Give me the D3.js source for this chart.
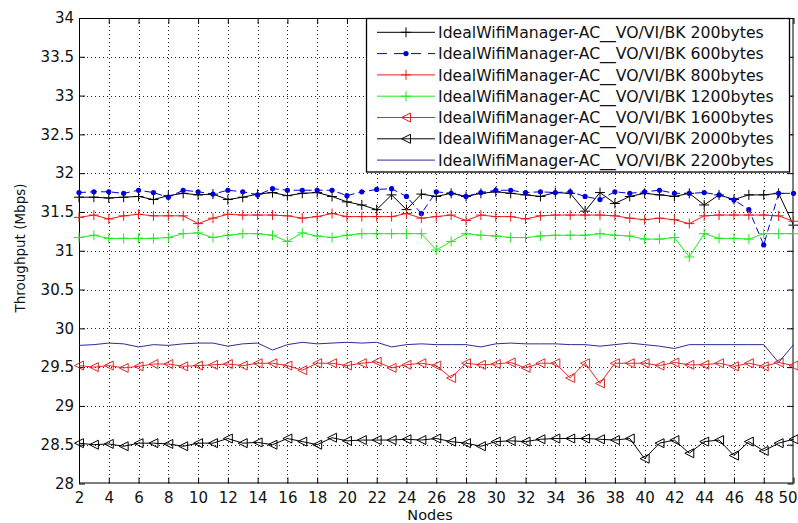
<!DOCTYPE html>
<html>
<head>
<meta charset="utf-8">
<script src="https://cdn.jsdelivr.net/npm/d3@7"></script>
<style>
  html, body { margin: 0; padding: 0; background: #fff; }
  svg { display: block; }
  text { font-family: "DejaVu Sans", sans-serif; fill: #111; }
</style>
</head>
<body>
<svg id="chart" width="798" height="523"></svg>
<script>
// ---------- DATA ----------
const nodes = [2,3,4,5,6,7,8,9,10,11,12,13,14,15,16,17,18,19,20,21,22,23,24,25,26,
               27,28,29,30,31,32,33,34,35,36,37,38,39,40,41,42,43,44,45,46,47,48,49,50];
const xTicks = [2,4,6,8,10,12,14,16,18,20,22,24,26,28,30,32,34,36,38,40,42,44,46,48,50];
const yTicks = [28,28.5,29,29.5,30,30.5,31,31.5,32,32.5,33,33.5,34];

const s200 = [31.69,31.69,31.68,31.69,31.70,31.66,31.71,31.74,31.72,31.73,31.66,31.69,31.73,31.75,31.71,31.74,31.75,
              31.70,31.63,31.59,31.53,31.72,31.53,31.73,31.70,31.74,31.70,31.74,31.76,31.74,31.72,31.70,31.75,
              31.74,31.51,31.75,31.61,31.70,31.74,31.72,31.70,31.74,31.59,31.72,31.66,31.72,31.72,31.74,31.33];
const s600 = [31.75,31.76,31.76,31.74,31.78,31.75,31.69,31.78,31.76,31.73,31.78,31.76,31.72,31.80,31.78,31.78,31.78,
              31.78,31.71,31.76,31.79,31.80,31.70,31.48,31.76,31.74,31.70,31.75,31.78,31.78,31.75,31.76,31.75,
              31.76,31.70,31.66,31.76,31.74,31.76,31.78,31.74,31.74,31.75,31.72,31.655,31.53,31.075,31.74,31.74];
const s800 = [31.43,31.46,31.41,31.45,31.47,31.45,31.45,31.45,31.35,31.42,31.47,31.46,31.46,31.46,31.45,31.42,31.44,
              31.48,31.44,31.44,31.44,31.44,31.48,31.42,31.44,31.46,31.39,31.46,31.44,31.44,31.41,31.45,31.46,
              31.46,31.46,31.46,31.45,31.42,31.40,31.42,31.40,31.35,31.45,31.46,31.46,31.46,31.46,31.45,31.38];
const s1200 = [31.17,31.20,31.16,31.16,31.16,31.16,31.17,31.22,31.23,31.17,31.20,31.22,31.22,31.20,31.12,31.23,31.19,
               31.17,31.20,31.22,31.22,31.22,31.22,31.22,31.01,31.12,31.22,31.20,31.19,31.17,31.17,31.19,31.20,
               31.20,31.20,31.22,31.20,31.19,31.15,31.15,31.17,30.92,31.22,31.16,31.16,31.15,31.22,31.22,31.22];
const s1600 = [29.52,29.50,29.52,29.49,29.51,29.54,29.54,29.51,29.52,29.53,29.54,29.52,29.55,29.55,29.52,29.46,29.55,
               29.55,29.52,29.55,29.57,29.49,29.53,29.55,29.52,29.36,29.55,29.53,29.54,29.56,29.49,29.55,29.55,
               29.36,29.55,29.29,29.55,29.55,29.55,29.52,29.56,29.53,29.53,29.55,29.51,29.55,29.51,29.56,29.52];
const s2000 = [28.52,28.50,28.51,28.48,28.52,28.52,28.51,28.48,28.52,28.52,28.58,28.52,28.53,28.50,28.58,28.54,28.50,
               28.59,28.55,28.56,28.56,28.56,28.57,28.56,28.58,28.54,28.52,28.48,28.54,28.55,28.54,28.57,28.58,
               28.58,28.58,28.57,28.56,28.58,28.32,28.52,28.56,28.39,28.54,28.56,28.36,28.54,28.42,28.52,28.57];
const s2200 = [29.78,29.79,29.81,29.80,29.76,29.79,29.78,29.80,29.81,29.81,29.77,29.80,29.81,29.72,29.79,29.82,29.80,
               29.81,29.82,29.81,29.82,29.76,29.79,29.80,29.79,29.79,29.79,29.76,29.80,29.81,29.80,29.80,29.80,
               29.79,29.79,29.77,29.79,29.81,29.79,29.77,29.74,29.79,29.79,29.79,29.79,29.79,29.79,29.56,29.79];

const seriesNames = [
  "IdealWifiManager-AC__VO/VI/BK 200bytes",
  "IdealWifiManager-AC__VO/VI/BK 600bytes",
  "IdealWifiManager-AC__VO/VI/BK 800bytes",
  "IdealWifiManager-AC__VO/VI/BK 1200bytes",
  "IdealWifiManager-AC__VO/VI/BK 1600bytes",
  "IdealWifiManager-AC__VO/VI/BK 2000bytes",
  "IdealWifiManager-AC__VO/VI/BK 2200bytes"
];
const xLabel = "Nodes";
const yLabel = "Throughput (Mbps)";

// ---------- STYLES ----------
const styles = [
  { color: "#000000", dash: null,  marker: "plus",  values: s200 },
  { color: "#0000dd", dash: "7,4", marker: "dot",   values: s600 },
  { color: "#e81c1c", dash: null,  marker: "plus",  values: s800 },
  { color: "#22e822", dash: null,  marker: "plus",  values: s1200 },
  { color: "#e02828", dash: null,  marker: "tri",   values: s1600 },
  { color: "#000000", dash: null,  marker: "tri",   values: s2000 },
  { color: "#2c2c96", dash: null,  marker: null,    values: s2200 }
];

// ---------- LAYOUT ----------
const L = 79, R = 793.5, T = 18, B = 483.5;
const svg = d3.select("#chart");
svg.append("rect").attr("width", 798).attr("height", 523).attr("fill", "#fff");

const x = d3.scaleLinear().domain([2, 50]).range([L, R]);
const y = d3.scaleLinear().domain([28, 34]).range([B, T]);

// grid
const grid = svg.append("g").attr("stroke", "#222").attr("stroke-width", 1)
  .attr("stroke-dasharray", "1,3");
grid.selectAll(".gx").data(xTicks.filter(d => d !== 2 && d !== 50)).join("line")
  .attr("x1", d => Math.round(x(d)) + 0.5).attr("x2", d => Math.round(x(d)) + 0.5)
  .attr("y1", T).attr("y2", B);
grid.selectAll(".gy").data(yTicks.filter(d => d !== 28 && d !== 34)).join("line")
  .attr("y1", d => Math.round(y(d)) + 0.5).attr("y2", d => Math.round(y(d)) + 0.5)
  .attr("x1", L).attr("x2", R);

// axes
const fmt = d => String(d);
const axL = svg.append("g").attr("transform", `translate(${L},0)`)
  .call(d3.axisLeft(y).tickValues(yTicks).tickFormat(fmt).tickSizeInner(-6).tickSizeOuter(0).tickPadding(5));
const axB = svg.append("g").attr("transform", `translate(0,${B})`)
  .call(d3.axisBottom(x).tickValues(xTicks).tickFormat(fmt).tickSizeInner(-6).tickSizeOuter(0).tickPadding(9));
const axR = svg.append("g").attr("transform", `translate(${R},0)`)
  .call(d3.axisRight(y).tickValues(yTicks).tickFormat("").tickSizeInner(-6).tickSizeOuter(0));
const axT = svg.append("g").attr("transform", `translate(0,${T})`)
  .call(d3.axisTop(x).tickValues(xTicks).tickFormat("").tickSizeInner(-6).tickSizeOuter(0));
[axL, axB, axR, axT].forEach(a => {
  a.select(".domain").remove();
  a.selectAll("line").attr("stroke", "#000");
  a.selectAll("text").attr("font-family", "DejaVu Sans, sans-serif").attr("font-size", 15).attr("fill", "#111");
});
// keep the last x label inside the picture
axB.selectAll(".tick text").filter(d => d === 50)
  .attr("text-anchor", "end").attr("x", 797 - R);

// box
svg.append("rect").attr("x", L + 0.5).attr("y", T + 0.5).attr("width", R - L - 1).attr("height", B - T - 1)
  .attr("fill", "none").attr("stroke", "#000").attr("stroke-width", 1);

// markers
function drawMarker(g, type, cx, cy, color) {
  if (type === "plus") {
    g.append("path").attr("d", `M${cx - 5},${cy}H${cx + 5}M${cx},${cy - 5}V${cy + 5}`)
      .attr("stroke", color).attr("stroke-width", 1).attr("fill", "none");
  } else if (type === "dot") {
    g.append("circle").attr("cx", cx).attr("cy", cy).attr("r", 2.6).attr("fill", color);
  } else if (type === "tri") {
    g.append("path").attr("d", `M${cx - 4.5},${cy}L${cx + 4.5},${cy - 4.5}L${cx + 4.5},${cy + 4.5}Z`)
      .attr("stroke", color).attr("stroke-width", 1).attr("fill", "none");
  }
}

// series
const line = d3.line().x((d, i) => x(nodes[i])).y(d => y(d));
styles.forEach(s => {
  const g = svg.append("g");
  g.append("path").datum(s.values).attr("d", line)
    .attr("fill", "none").attr("stroke", s.color).attr("stroke-width", 1)
    .attr("stroke-dasharray", s.dash);
  if (s.marker) s.values.forEach((v, i) => drawMarker(g, s.marker, x(nodes[i]), y(v), s.color));
});

// axis labels
svg.append("text").attr("x", 430).attr("y", 520).attr("text-anchor", "middle")
  .attr("font-size", 14.5).text(xLabel);
svg.append("text").attr("transform", "translate(25,248) rotate(-90)").attr("text-anchor", "middle")
  .attr("font-size", 13.5).text(yLabel);

// legend
const lg = svg.append("g");
const lgX = 366.5, lgY = 18.5, lgW = 423, lgH = 153.5;
lg.append("rect").attr("x", lgX).attr("y", lgY).attr("width", lgW).attr("height", lgH)
  .attr("fill", "#fff").attr("stroke", "#000").attr("stroke-width", 1.3);
seriesNames.forEach((name, i) => {
  const s = styles[i];
  const cy = 32.3 + i * 21.3;
  lg.append("line").attr("x1", 377).attr("x2", 435).attr("y1", cy).attr("y2", cy)
    .attr("stroke", s.color).attr("stroke-width", 1)
    .attr("stroke-dasharray", s.dash ? "10,7" : null);
  if (s.marker) drawMarker(lg, s.marker, 406, cy, s.color);
  lg.append("text").attr("x", 438).attr("y", cy).attr("dy", "0.36em")
    .attr("font-size", 15.7).text(name);
});
</script>
</body>
</html>
